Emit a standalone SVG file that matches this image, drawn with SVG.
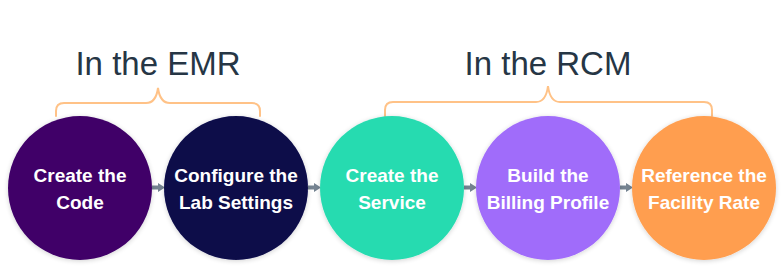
<svg xmlns="http://www.w3.org/2000/svg" width="784" height="268" viewBox="0 0 784 268">
<defs>
<style>
.title{font-family:"Liberation Sans",Arial,sans-serif;font-size:33px;fill:#263645;text-anchor:middle}
.lbl{font-family:"Liberation Sans",Arial,sans-serif;font-size:19px;font-weight:bold;fill:#ffffff;text-anchor:middle}
.brace{fill:none;stroke:#ffc287;stroke-width:2;stroke-linecap:round}
.arrow{fill:#748391}
</style>
<filter id="sh" x="-20%" y="-20%" width="140%" height="140%">
<feGaussianBlur in="SourceAlpha" stdDeviation="2.5"/>
<feOffset dx="0" dy="1" result="b"/>
<feComponentTransfer><feFuncA type="linear" slope="0.18"/></feComponentTransfer>
<feMerge><feMergeNode/><feMergeNode in="SourceGraphic"/></feMerge>
</filter>
<path id="arr" d="M0,-2 H6 V-4.5 L13,0 L6,4.5 V2 H0 Z"/>
</defs>
<rect width="784" height="268" fill="#ffffff"/>
<g id="group-emr">
<text class="title" x="158" y="75">In the EMR</text>
<path class="brace" d="M56,116 V111 Q56,103 64,103 H146 Q156,103 158,88 Q160,103 170,103 H252 Q260,103 260,111 V116"/>
</g>
<g id="group-rcm">
<text class="title" x="548" y="75">In the RCM</text>
<path class="brace" d="M385,116 V110 Q385,102 393,102 H536 Q546,102 548,86 Q550,102 560,102 H704 Q712,102 712,110 V116"/>
</g>
<g id="connectors">
<use href="#arr" class="arrow" x="152" y="187.5"/>
<use href="#arr" class="arrow" x="308" y="187.5"/>
<use href="#arr" class="arrow" x="464" y="187.5"/>
<use href="#arr" class="arrow" x="620" y="187.5"/>
</g>
<g id="node-create-code">
<circle cx="80" cy="188" r="72" fill="#3f0068" filter="url(#sh)"/>
<text class="lbl" x="80" y="182">Create the</text>
<text class="lbl" x="80" y="209">Code</text>
</g>
<g id="node-configure-lab">
<circle cx="236" cy="188" r="72" fill="#080848" filter="url(#sh)"/>
<text class="lbl" x="236" y="182">Configure the</text>
<text class="lbl" x="236" y="209">Lab Settings</text>
</g>
<g id="node-create-service">
<circle cx="392" cy="188" r="72" fill="#27dbb0" filter="url(#sh)"/>
<text class="lbl" x="392" y="182">Create the</text>
<text class="lbl" x="392" y="209">Service</text>
</g>
<g id="node-billing-profile">
<circle cx="548" cy="188" r="72" fill="#a06cfa" filter="url(#sh)"/>
<text class="lbl" x="548" y="182">Build the</text>
<text class="lbl" x="548" y="209">Billing Profile</text>
</g>
<g id="node-facility-rate">
<circle cx="704" cy="188" r="72" fill="#ff9e4f" filter="url(#sh)"/>
<text class="lbl" x="704" y="182">Reference the</text>
<text class="lbl" x="704" y="209">Facility Rate</text>
</g>
</svg>
